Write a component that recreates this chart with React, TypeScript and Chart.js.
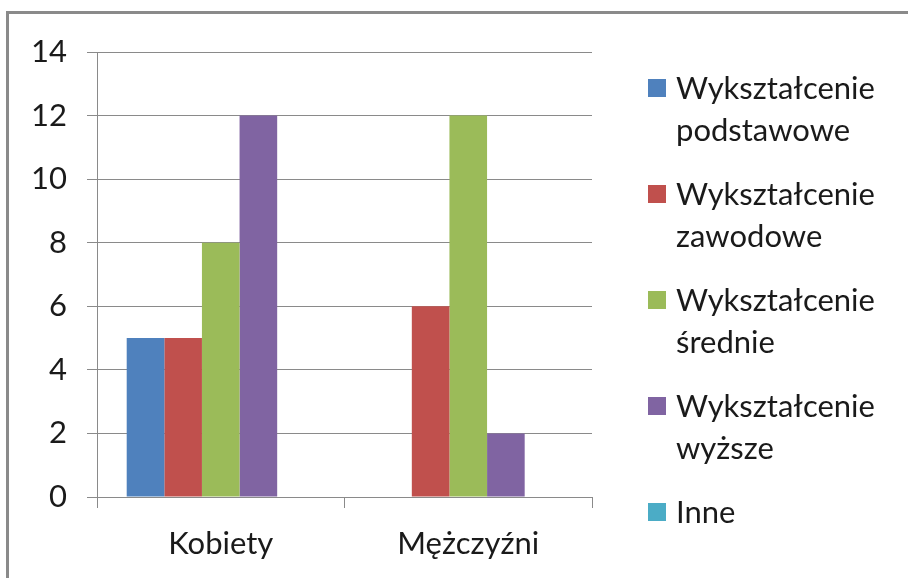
import React, { useEffect, useRef } from "react";
import { Chart, registerables } from "chart.js";

Chart.register(...registerables);

const categories = ["Kobiety", "Mężczyźni"];
const seriesNames = [
  ["Wykształcenie", "podstawowe"],
  ["Wykształcenie", "zawodowe"],
  ["Wykształcenie", "średnie"],
  ["Wykształcenie", "wyższe"],
  ["Inne"],
];
const podstawowe = [5, 0];
const zawodowe = [5, 6];
const srednie = [8, 12];
const wyzsze = [12, 2];
const inne = [0, 0];
const seriesValues = [podstawowe, zawodowe, srednie, wyzsze, inne];
const seriesColors = ["#4F81BD", "#C0504D", "#9BBB59", "#8064A2", "#4BACC6"];
const yMin = 0;
const yMax = 14;
const yStep = 2;

const FONT = "Lato, 'Open Sans', sans-serif";
const GRID = "#8a8a8a";

export default function App() {
  const canvasRef = useRef<HTMLCanvasElement | null>(null);

  useEffect(() => {
    const canvas = canvasRef.current;
    if (!canvas) return;
    const chart = new Chart(canvas, {
      type: "bar",
      data: {
        labels: categories,
        datasets: seriesValues.map((vals, i) => ({
          label: seriesNames[i].join(" "),
          data: vals,
          backgroundColor: seriesColors[i],
          borderWidth: 0,
          categoryPercentage: 0.76,
          barPercentage: 1,
        })),
      },
      options: {
        animation: false,
        responsive: false,
        maintainAspectRatio: false,
        layout: { padding: { top: 52, right: 316, bottom: 0, left: 0 } },
        plugins: {
          legend: { display: false },
          tooltip: { enabled: false },
        },
        scales: {
          x: {
            offset: true,
            grid: {
              offset: true,
              drawOnChartArea: false,
              drawTicks: true,
              tickLength: 11,
              color: GRID,
              lineWidth: 1,
            },
            border: { display: true, color: GRID, width: 1 },
            ticks: {
              color: "#1a1a1a",
              font: { family: FONT, size: 31 },
              padding: 17,
              maxRotation: 0,
            },
            afterFit: (scale: any) => {
              scale.height = 81;
            },
          },
          y: {
            min: yMin,
            max: yMax,
            ticks: {
              stepSize: yStep,
              color: "#1a1a1a",
              font: { family: FONT, size: 31 },
              padding: 20,
            },
            grid: {
              color: GRID,
              lineWidth: 1,
              tickLength: 10,
            },
            border: { display: true, color: GRID, width: 1 },
            afterFit: (scale: any) => {
              scale.width = 97;
            },
          },
        },
      },
    });
    return () => chart.destroy();
  }, []);

  return (
    <div
      style={{
        position: "fixed",
        left: 0,
        top: 0,
        width: 908,
        height: 578,
        overflow: "hidden",
        background: "#ffffff",
      }}
    >
      <div
        style={{
          position: "absolute",
          left: 6,
          top: 11,
          width: 1000,
          height: 700,
          borderLeft: "3px solid #8a8a8a",
          borderTop: "3px solid #8a8a8a",
        }}
      />
      <canvas
        ref={canvasRef}
        width={908}
        height={578}
        style={{ position: "absolute", left: 0, top: 0, width: 908, height: 578 }}
      />
      <div
        style={{
          position: "absolute",
          left: 648,
          top: 66,
          fontFamily: FONT,
          fontSize: 31,
          color: "#1a1a1a",
          lineHeight: "42px",
        }}
      >
        {seriesNames.map((lines, i) => (
          <div key={i} style={{ position: "relative", paddingLeft: 28, marginBottom: 22 }}>
            <span
              style={{
                position: "absolute",
                left: 0,
                top: 13,
                width: 18,
                height: 18,
                background: seriesColors[i],
              }}
            />
            {lines.map((t, j) => (
              <div key={j} style={{ whiteSpace: "nowrap" }}>
                {t}
              </div>
            ))}
          </div>
        ))}
      </div>
    </div>
  );
}
